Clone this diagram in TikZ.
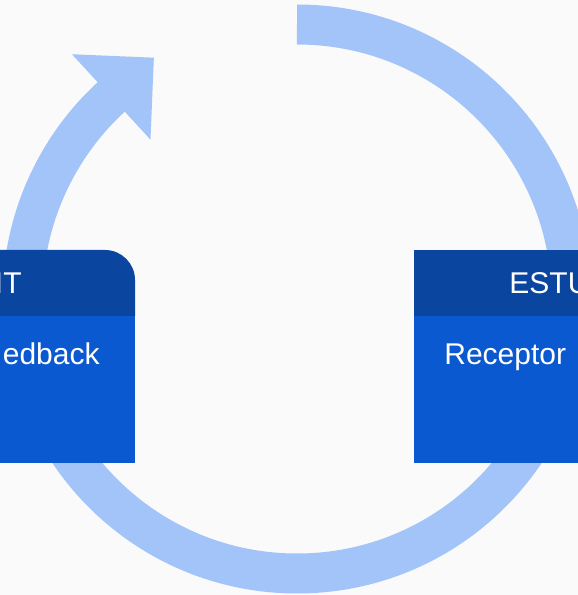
\documentclass[tikz,border=0pt]{standalone}
\usepackage{fontspec}
\setmainfont{Liberation Sans}
\usetikzlibrary{positioning}
\definecolor{pagebg}{HTML}{FAFAFA}
\definecolor{ringblue}{HTML}{A3C4F9}
\definecolor{headblue}{HTML}{0A46A0}
\definecolor{bodyblue}{HTML}{0B59D1}

\begin{document}
\begin{tikzpicture}[x=0.5pt, y=0.5pt,
    ring/.style={draw=ringblue, line width=20pt},
    boxtext/.style={text=white, font=\fontsize{15}{18}\selectfont, inner sep=0pt}]
    % Page
    \useasboundingbox (0,0) rectangle (578,595);
    \clip (0,0) rectangle (578,595);
    \fill[pagebg] (0,0) rectangle (578,595);

    % Cycle ring with its arrow head
    \coordinate (c) at (297,296);
    \draw[ring] ([shift={(90:274.5)}]c) arc[start angle=90, end angle=-228, radius=274.5];
    \fill[ringblue] ([shift={(132.6:332.5)}]c) -- ([shift={(120.67:280.6)}]c)
        -- ([shift={(132.6:216.5)}]c) -- cycle;

    % Left box
    \fill[bodyblue] (-60,132) rectangle (135,279);
    \fill[headblue] (-60,279) -- (-60,345) -- (105,345)
        arc[start angle=90, end angle=0, radius=30] -- (135,279) -- cycle;
    \node[boxtext, anchor=base east] (fbhead) at (22,301) {IT};
    \node[boxtext, anchor=base east] (fbbody) at (100,230) {edback};

    % Right box
    \fill[bodyblue] (414,132) rectangle (640,279);
    \fill[headblue] (414,279) rectangle (640,345);
    \node[boxtext, anchor=base west] (sthead) at (509,301) {ESTU};
    \node[boxtext, anchor=base west] (stbody) at (444,230) {Receptor};
\end{tikzpicture}
\end{document}
